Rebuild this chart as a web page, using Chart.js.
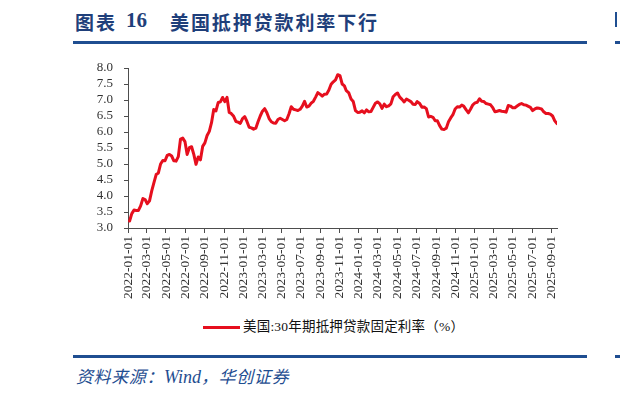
<!DOCTYPE html>
<html>
<head>
<meta charset="utf-8">
<script src="https://cdn.jsdelivr.net/npm/chart.js@4.4.1/dist/chart.umd.min.js"></script>
<style>
  html, body { margin: 0; padding: 0; background: #fff; }
  #page { position: relative; width: 620px; height: 397px; overflow: hidden; background: #fff; }
  .title { position: absolute; top: 11px; font-family: "Noto Sans CJK SC", sans-serif; font-weight: bold; font-size: 19px; line-height: 21px; color: #1f3f7a; white-space: nowrap; letter-spacing: 1.9px; }
  .num { font-family: "Liberation Serif", serif; font-weight: bold; font-size: 21px; letter-spacing: 0; }
  .rule { position: absolute; left: 73px; width: 514px; height: 3px; background: #1f4e91; }
  .frag { position: absolute; background: #1f4e91; }
  #source { position: absolute; left: 76px; top: 366px; font-family: "Noto Sans CJK SC", sans-serif; font-style: italic; font-size: 17px; line-height: 20px; color: #1f4e91; white-space: nowrap; letter-spacing: 0.6px; }
  #source .w { font-family: "Liberation Serif", serif; font-size: 18px; letter-spacing: 0; }
  #legend { position: absolute; left: 203px; top: 318px; height: 18px; white-space: nowrap; }
  #legend .swatch { position: absolute; left: 0; top: 8px; width: 37px; height: 3px; background: #e60f1e; }
  #legend .lbl { position: absolute; left: 40px; top: 0; font-family: "Liberation Serif", "Noto Sans CJK SC", serif; font-size: 13.5px; line-height: 18px; color: #111; letter-spacing: 0.2px; }
  canvas { position: absolute; left: 0; top: 0; }
</style>
</head>
<body>
<div id="page">
  <div class="title" style="left:75px">图表</div>
  <div class="title num" style="left:126px;top:10px">16</div>
  <div class="title" style="left:170px">美国抵押贷款利率下行</div>
  <div class="rule" style="top:41px"></div>
  <div class="frag" style="left:615px;top:12px;width:2px;height:15px"></div>
  <div class="frag" style="left:615px;top:41px;width:5px;height:3px"></div>
  <canvas id="c" width="620" height="310"></canvas>
  <div id="legend"><div class="swatch"></div><div class="lbl" id="legendText"></div></div>
  <div class="rule" style="top:355px"></div>
  <div class="frag" style="left:615px;top:355px;width:5px;height:3px"></div>
  <div id="source">资料来源：<span class="w">Wind</span>，华创证券</div>
</div>
<script>
// ---- Data (Freddie Mac PMMS 30-year fixed, weekly) ----
const seriesName = "美国:30年期抵押贷款固定利率（%）";

const dates = [
  "2022-01-06","2022-01-13","2022-01-20","2022-01-27","2022-02-03","2022-02-10","2022-02-17","2022-02-24",
  "2022-03-03","2022-03-10","2022-03-17","2022-03-24","2022-03-31","2022-04-07","2022-04-14","2022-04-21",
  "2022-04-28","2022-05-05","2022-05-12","2022-05-19","2022-05-26","2022-06-02","2022-06-09","2022-06-16",
  "2022-06-23","2022-06-30","2022-07-07","2022-07-14","2022-07-21","2022-07-28","2022-08-04","2022-08-11",
  "2022-08-18","2022-08-25","2022-09-01","2022-09-08","2022-09-15","2022-09-22","2022-09-29","2022-10-06",
  "2022-10-13","2022-10-20","2022-10-27","2022-11-03","2022-11-10","2022-11-17","2022-11-23","2022-12-01",
  "2022-12-08","2022-12-15","2022-12-22","2022-12-29",
  "2023-01-05","2023-01-12","2023-01-19","2023-01-26","2023-02-02","2023-02-09","2023-02-16","2023-02-23",
  "2023-03-02","2023-03-09","2023-03-16","2023-03-23","2023-03-30","2023-04-06","2023-04-13","2023-04-20",
  "2023-04-27","2023-05-04","2023-05-11","2023-05-18","2023-05-25","2023-06-01","2023-06-08","2023-06-15",
  "2023-06-22","2023-06-29","2023-07-06","2023-07-13","2023-07-20","2023-07-27","2023-08-03","2023-08-10",
  "2023-08-17","2023-08-24","2023-08-31","2023-09-07","2023-09-14","2023-09-21","2023-09-28","2023-10-05",
  "2023-10-12","2023-10-19","2023-10-26","2023-11-02","2023-11-09","2023-11-16","2023-11-22","2023-11-30",
  "2023-12-07","2023-12-14","2023-12-21","2023-12-28",
  "2024-01-04","2024-01-11","2024-01-18","2024-01-25","2024-02-01","2024-02-08","2024-02-15","2024-02-22",
  "2024-02-29","2024-03-07","2024-03-14","2024-03-21","2024-03-28","2024-04-04","2024-04-11","2024-04-18",
  "2024-04-25","2024-05-02","2024-05-09","2024-05-16","2024-05-23","2024-05-30","2024-06-06","2024-06-13",
  "2024-06-20","2024-06-27","2024-07-03","2024-07-11","2024-07-18","2024-07-25","2024-08-01","2024-08-08",
  "2024-08-15","2024-08-22","2024-08-29","2024-09-05","2024-09-12","2024-09-19","2024-09-26","2024-10-03",
  "2024-10-10","2024-10-17","2024-10-24","2024-10-31","2024-11-07","2024-11-14","2024-11-21","2024-11-27",
  "2024-12-05","2024-12-12","2024-12-19","2024-12-26",
  "2025-01-02","2025-01-09","2025-01-16","2025-01-23","2025-01-30","2025-02-06","2025-02-13","2025-02-20",
  "2025-02-27","2025-03-06","2025-03-13","2025-03-20","2025-03-27","2025-04-03","2025-04-10","2025-04-17",
  "2025-04-24","2025-05-01","2025-05-08","2025-05-15","2025-05-22","2025-05-29","2025-06-05","2025-06-12",
  "2025-06-18","2025-06-26","2025-07-03","2025-07-10","2025-07-17","2025-07-24","2025-07-31","2025-08-07",
  "2025-08-14","2025-08-21","2025-08-28","2025-09-04","2025-09-11","2025-09-18"
];

const rates = [
  3.22,3.45,3.56,3.55,3.55,3.69,3.92,3.89,
  3.76,3.85,4.16,4.42,4.67,4.72,5.00,5.11,
  5.10,5.27,5.30,5.25,5.10,5.09,5.23,5.78,
  5.81,5.70,5.30,5.51,5.54,5.30,4.99,5.22,
  5.13,5.55,5.66,5.89,6.02,6.29,6.70,6.66,
  6.92,6.94,7.08,6.95,7.08,6.61,6.58,6.49,
  6.33,6.31,6.27,6.42,
  6.48,6.33,6.15,6.13,6.09,6.12,6.32,6.50,
  6.65,6.73,6.60,6.42,6.32,6.28,6.27,6.39,
  6.43,6.39,6.35,6.39,6.57,6.79,6.71,6.69,
  6.67,6.71,6.81,6.96,6.78,6.81,6.90,6.96,
  7.09,7.23,7.18,7.12,7.18,7.19,7.31,7.49,
  7.57,7.63,7.79,7.76,7.50,7.44,7.29,7.22,
  7.03,6.95,6.67,6.61,
  6.62,6.66,6.60,6.69,6.63,6.64,6.77,6.90,
  6.94,6.88,6.74,6.87,6.79,6.82,6.88,7.10,
  7.17,7.22,7.09,7.02,6.94,7.03,6.99,6.95,
  6.87,6.86,6.95,6.89,6.77,6.78,6.73,6.47,
  6.49,6.46,6.35,6.35,6.20,6.09,6.08,6.12,
  6.32,6.44,6.54,6.72,6.79,6.78,6.84,6.81,
  6.69,6.60,6.72,6.85,
  6.91,6.93,7.04,6.96,6.95,6.89,6.87,6.85,
  6.76,6.63,6.65,6.67,6.65,6.64,6.62,6.83,
  6.81,6.76,6.76,6.81,6.86,6.89,6.85,6.84,
  6.81,6.77,6.67,6.72,6.75,6.74,6.72,6.63,
  6.58,6.58,6.56,6.50,6.35,6.26
];

const tickLabels = [
  "2022-01-01","2022-03-01","2022-05-01","2022-07-01","2022-09-01","2022-11-01",
  "2023-01-01","2023-03-01","2023-05-01","2023-07-01","2023-09-01","2023-11-01",
  "2024-01-01","2024-03-01","2024-05-01","2024-07-01","2024-09-01","2024-11-01",
  "2025-01-01","2025-03-01","2025-05-01","2025-07-01","2025-09-01"
];

const yMin = 3.0, yMax = 8.0, yStep = 0.5;

// ---- helpers ----
const origin = Date.UTC(2022, 0, 1);
function dayOffset(s) {
  const p = s.split("-").map(Number);
  return (Date.UTC(p[0], p[1] - 1, p[2]) - origin) / 86400000;
}
const tickDays = tickLabels.map(dayOffset);
const points = dates.map((d, i) => ({ x: dayOffset(d), y: rates[i] }));

document.getElementById("legendText").textContent = seriesName;

const axisColor = "#4d4d4d";
const tickFont = { family: "'Liberation Serif', 'Times New Roman', serif", size: 13 };

new Chart(document.getElementById("c"), {
  type: "line",
  data: {
    datasets: [{
      label: seriesName,
      data: points,
      borderColor: "#e60f1e",
      backgroundColor: "#e60f1e",
      borderWidth: 3,
      pointRadius: 0,
      tension: 0,
      borderJoinStyle: "round",
      borderCapStyle: "round"
    }]
  },
  options: {
    responsive: false,
    animation: false,
    devicePixelRatio: 1,
    layout: { padding: { left: 0, top: 68, right: 63, bottom: 0 } },
    plugins: { legend: { display: false }, tooltip: { enabled: false } },
    scales: {
      x: {
        type: "linear",
        min: 0,
        max: dayOffset(dates[dates.length - 1]),
        afterBuildTicks: (scale) => { scale.ticks = tickDays.map(v => ({ value: v })); },
        afterFit: (scale) => { scale.height = 82; },
        grid: { drawOnChartArea: false, drawTicks: true, tickLength: 5, color: axisColor },
        border: { display: true, color: axisColor, width: 1 },
        ticks: {
          autoSkip: false,
          minRotation: 90,
          maxRotation: 90,
          padding: 3,
          color: "#333",
          font: { family: tickFont.family, size: 13.5 },
          callback: (value, index) => tickLabels[index]
        }
      },
      y: {
        type: "linear",
        min: yMin,
        max: yMax,
        afterFit: (scale) => { scale.width = 128; },
        grid: { drawOnChartArea: false, drawTicks: true, tickLength: 4, color: axisColor },
        border: { display: true, color: axisColor, width: 1 },
        ticks: {
          autoSkip: false,
          stepSize: yStep,
          padding: 11,
          color: "#333",
          font: tickFont,
          callback: (v) => Number(v).toFixed(1)
        }
      }
    }
  }
});
</script>
</body>
</html>
